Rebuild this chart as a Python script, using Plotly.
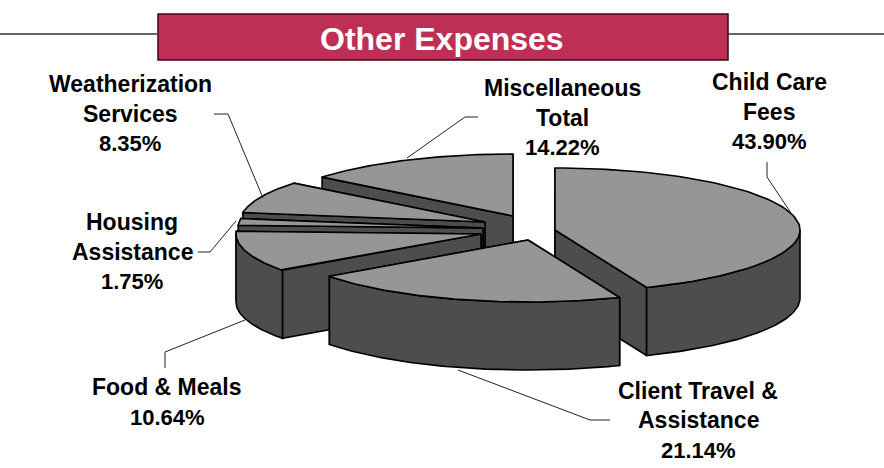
import numpy as np
import plotly.graph_objects as go

# --- data ---
categories = ["Child Care Fees", "Client Travel & Assistance", "Food & Meals",
              "Housing Assistance", "Weatherization Services", "Miscellaneous Total"]
shares = [43.90, 21.14, 10.64, 1.75, 8.35, 14.22]
label_lines = [["Child Care", "Fees"], ["Client Travel &", "Assistance"], ["Food & Meals"],
               ["Housing", "Assistance"], ["Weatherization", "Services"], ["Miscellaneous", "Total"]]

# --- layout constants (pixel-based axes) ---
W, H = 884, 468
RX, RY, DEPTH = 245, 62, 68
apexes = [(555, 230), (528, 240), (481, 234), (483, 228), (485, 222), (513, 216)]
draw_order = [5, 4, 3, 2, 0, 1]
label_pos = [(769, [82, 112, 141]), (698, [391, 420, 450]), (167, [387, 417]),
             (132, [222, 252, 281]), (130, [84, 114, 143]), (562, [88, 118, 147])]
leaders = [([767, 767, 797], [162, 177, 222]),
           ([458, 590, 610], [370, 420, 420]),
           ([165, 165, 245], [368, 352, 320]),
           ([198, 210, 236], [252, 252, 221]),
           ([214, 228, 263], [114, 114, 198]),
           ([407, 465, 478], [158, 117, 117])]
TOP, SIDE, EDGE = "#969696", "#4d4d4d", "#000000"
BAR, BAR_EDGE = "#bd2f54", "#3a0a18"
FONT = "Liberation Sans"

total = sum(shares)
angles = np.concatenate([[0], np.cumsum(shares) / total * 2 * np.pi])


def arc(apex, a0, a1):
    t = np.linspace(a0, a1, 80)
    return apex[0] + RX * np.sin(t), apex[1] - RY * np.cos(t)


fig = go.Figure()


def poly(x, y, fill):
    fig.add_trace(go.Scatter(x=list(x), y=list(y), mode="lines", fill="toself",
                             fillcolor=fill, line=dict(color=EDGE, width=1.6),
                             hoverinfo="skip", showlegend=False))


for i in draw_order:
    apex = apexes[i]
    a0, a1 = angles[i], angles[i + 1]
    ax, ay = arc(apex, a0, a1)
    # radial walls, rear one first
    ends = sorted([(ax[0], ay[0]), (ax[-1], ay[-1])], key=lambda p: p[1])
    for px, py in ends:
        poly([apex[0], px, px, apex[0], apex[0]],
             [apex[1], py, py + DEPTH, apex[1] + DEPTH, apex[1]], SIDE)
    # outer rim: only its front-facing part can be seen
    r0, r1 = max(a0, np.pi / 2), min(a1, 3 * np.pi / 2)
    if r1 > r0:
        rx, ry = arc(apex, r0, r1)
        poly(np.r_[rx, rx[::-1], rx[0]], np.r_[ry, ry[::-1] + DEPTH, ry[0]], SIDE)
    # top face
    poly(np.r_[apex[0], ax, apex[0]], np.r_[apex[1], ay, apex[1]], TOP)

for lx, ly in leaders:
    fig.add_trace(go.Scatter(x=lx, y=ly, mode="lines", line=dict(color="#222222", width=1),
                             hoverinfo="skip", showlegend=False))

annotations = []
for lines, share, (cx, ys) in zip(label_lines, shares, label_pos):
    n = len(lines)
    for j, (text, y) in enumerate(zip(lines + [f"{share:.2f}%"], ys)):
        annotations.append(dict(x=cx, y=y, text=f"<b>{text}</b>", showarrow=False,
                                xanchor="center", yanchor="middle",
                                font=dict(family=FONT, size=22 if j == n else 23,
                                          color="#000000")))
annotations.append(dict(x=442, y=39, text="<b>Other Expenses</b>", showarrow=False,
                        xanchor="center", yanchor="middle",
                        font=dict(family=FONT, size=32, color="#ffffff")))

shapes = [
    dict(type="line", x0=0, x1=157, y0=34, y1=34, line=dict(color="#333333", width=1.3)),
    dict(type="line", x0=728, x1=W, y0=34, y1=34, line=dict(color="#333333", width=1.3)),
    dict(type="rect", x0=158, x1=728, y0=14, y1=60, fillcolor=BAR,
         line=dict(color=BAR_EDGE, width=1.5)),
]

fig.update_layout(
    width=W, height=H, margin=dict(l=0, r=0, t=0, b=0), autosize=False,
    paper_bgcolor="#ffffff", plot_bgcolor="#ffffff", showlegend=False,
    xaxis=dict(range=[0, W], visible=False, fixedrange=True),
    yaxis=dict(range=[H, 0], visible=False, fixedrange=True),
    shapes=shapes, annotations=annotations,
)
fig.write_html("out.html", config=dict(displayModeBar=False),
               post_script="document.body.style.margin='0';document.body.style.overflow='hidden';")
